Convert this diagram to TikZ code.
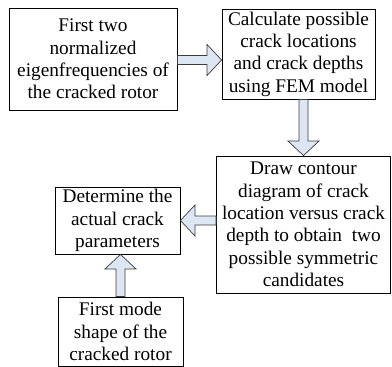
\documentclass[tikz,border=0pt]{standalone}
\usepackage{fontspec}
\setmainfont{Liberation Serif}
\usetikzlibrary{calc}

\definecolor{arrowfill}{RGB}{221,230,243}
\definecolor{arrowline}{RGB}{60,60,60}

\tikzset{
  stepbox/.style={draw=black, line width=0.9pt, align=center, inner sep=0pt,
    font=\fontsize{19.3}{22.3}\selectfont},
  blockarrow/.style={draw=arrowline, line width=0.7pt, fill=arrowfill,
    line join=miter},
}

% Hollow block arrow between two points on a horizontal or vertical line
\newcommand\harrow[2]{%
  \draw[blockarrow] let \p1=(#1), \p2=(#2), \n1={sign(\x2-\x1)} in
    (\x1,\y1+4.5pt) -- (\x2-\n1*14.5pt,\y1+4.5pt) -- (\x2-\n1*14.5pt,\y1+15.5pt)
    -- (\x2,\y1) -- (\x2-\n1*14.5pt,\y1-15.5pt) -- (\x2-\n1*14.5pt,\y1-4.5pt)
    -- (\x1,\y1-4.5pt) -- cycle;}
\newcommand\varrow[2]{%
  \draw[blockarrow] let \p1=(#1), \p2=(#2), \n1={sign(\y2-\y1)} in
    (\x1+4.5pt,\y1) -- (\x1+4.5pt,\y2-\n1*14.5pt) -- (\x1+15.5pt,\y2-\n1*14.5pt)
    -- (\x1,\y2) -- (\x1-15.5pt,\y2-\n1*14.5pt) -- (\x1-4.5pt,\y2-\n1*14.5pt)
    -- (\x1-4.5pt,\y1) -- cycle;}

\begin{document}
\begin{tikzpicture}[x=1pt, y=-1pt]
  \useasboundingbox (0,0) rectangle (392,367);

  \node[stepbox, minimum width=168pt, minimum height=102pt] (freq) at (93,59)
    {First two\\normalized\\eigenfrequencies of\\the cracked rotor};
  \node[stepbox, minimum width=153pt, minimum height=90pt] (fem) at (298.5,54)
    {Calculate possible\\crack locations\\and crack depths\\using FEM model};
  \node[stepbox, minimum width=174pt, minimum height=137pt] (contour) at (303.5,224.5)
    {Draw contour\\diagram of crack\\location versus crack\\depth to obtain\ \ two\\possible symmetric\\candidates};
  \node[stepbox, minimum width=125pt, minimum height=67pt] (actual) at (117.5,220.5)
    {Determine the\\actual crack\\parameters};
  \node[stepbox, minimum width=125pt, minimum height=69pt] (mode) at (120.5,331.5)
    {First mode\\shape of the\\cracked rotor};

  \coordinate (a1s) at ($(freq.east)+(0,1)$);
  \harrow{a1s}{a1s -| fem.west}
  \varrow{fem.south -| contour.north}{contour.north}
  \harrow{contour.west |- actual.east}{actual.east}
  \varrow{mode.north}{mode.north |- actual.south}
\end{tikzpicture}
\end{document}
